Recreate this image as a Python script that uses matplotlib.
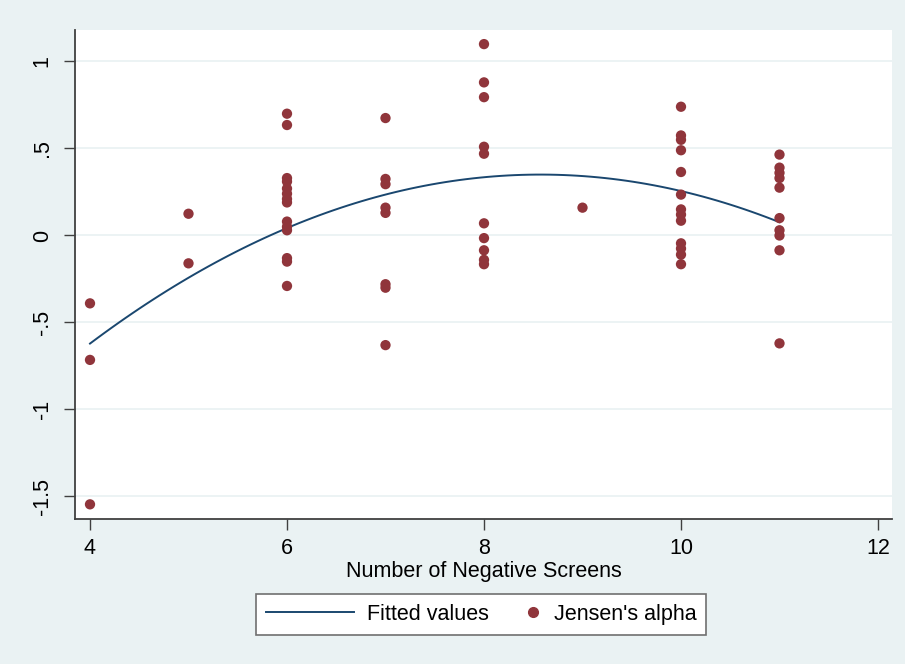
import numpy as np
import matplotlib
matplotlib.use('Agg')
import matplotlib.pyplot as plt
from matplotlib.lines import Line2D
from matplotlib.legend_handler import HandlerLine2DCompound

plt.rcParams['font.family'] = ['Liberation Sans', 'DejaVu Sans']

# Jensen's alpha, grouped by number of negative screens
alpha_4 = [-0.39, -0.715, -1.545]
alpha_5 = [0.125, -0.16]
alpha_6 = [0.70, 0.635, 0.33, 0.31, 0.27, 0.24, 0.21, 0.19, 0.08, 0.05, 0.03, -0.13, -0.15, -0.29]
alpha_7 = [0.675, 0.325, 0.295, 0.16, 0.13, -0.28, -0.30, -0.63]
alpha_8 = [1.10, 0.88, 0.795, 0.51, 0.47, 0.07, -0.015, -0.085, -0.14, -0.165]
alpha_9 = [0.16]
alpha_10 = [0.74, 0.575, 0.55, 0.49, 0.365, 0.235, 0.15, 0.12, 0.085, -0.045, -0.075, -0.11, -0.165]
alpha_11 = [0.465, 0.39, 0.36, 0.33, 0.275, 0.10, 0.03, 0.00, -0.085, -0.62]

groups = {4: alpha_4, 5: alpha_5, 6: alpha_6, 7: alpha_7,
          8: alpha_8, 9: alpha_9, 10: alpha_10, 11: alpha_11}

x_ticks = [4, 6, 8, 10, 12]
y_ticks = [1, 0.5, 0, -0.5, -1, -1.5]
y_labels = ['1', '.5', '0', '-.5', '-1', '-1.5']

screens = np.concatenate([[k] * len(v) for k, v in groups.items()])
alpha = np.concatenate([v for v in groups.values()])

# quadratic fit, like stata's qfit
coef = np.polyfit(screens, alpha, 2)
xfit = np.linspace(screens.min(), screens.max(), 100)
yfit = np.polyval(coef, xfit)

navy = '#1A476F'
maroon = '#90353B'
bg = '#EAF2F3'

fig = plt.figure(figsize=(9.05, 6.64), dpi=100, facecolor=bg)
ax = fig.add_axes([75 / 905, 1 - 519 / 664, (892 - 75) / 905, (519 - 30) / 664])
ax.set_facecolor('white')

for y in y_ticks:
    ax.axhline(y, color=bg, lw=1.3, zorder=0)

ax.plot(xfit, yfit, color=navy, lw=1.4, zorder=2)
ax.scatter(screens, alpha, s=55, color=maroon, edgecolors='none', zorder=3)

ax.set_xlim(4 + (75 - 90) / 98.5, 4 + (892 - 90) / 98.5)
ax.set_ylim((235.5 - 519) / 174, (235.5 - 30) / 174)

ax.set_xticks(x_ticks)
ax.set_yticks(y_ticks)
ax.set_yticklabels(y_labels, rotation=90, va='center')
ax.tick_params(axis='both', labelsize=15.5, length=8, width=1, color='#404040', direction='out')
ax.tick_params(axis='x', pad=6)
ax.tick_params(axis='y', pad=8)
for side in ['top', 'right']:
    ax.spines[side].set_visible(False)
for side in ['left', 'bottom']:
    ax.spines[side].set_color('#404040')
    ax.spines[side].set_linewidth(1.3)

ax.set_xlabel('Number of Negative Screens', fontsize=15.5, labelpad=1)


# stata puts the dot right next to its label, not in the middle of the key
class RightMarker(HandlerLine2DCompound):
    def get_xdata(self, legend, xdescent, ydescent, width, height, fontsize):
        return [-xdescent, -xdescent + width], [-xdescent + width - 0.35 * fontsize]


h_line = Line2D([], [], color=navy, lw=1.4)
h_dot = Line2D([], [], color=maroon, marker='o', markersize=7, linestyle='none')
leg = fig.legend([h_line, h_dot], ['Fitted values', "Jensen's alpha"],
                 loc='center', bbox_to_anchor=(481 / 905, 1 - 614.5 / 664),
                 ncol=2, fontsize=15.5, handlelength=4.1, handletextpad=0.6,
                 columnspacing=-1.7, borderpad=0.45, fancybox=False,
                 framealpha=1, edgecolor='#707070',
                 handler_map={h_dot: RightMarker()})
leg.get_frame().set_linewidth(1.2)

fig.savefig('out.png', dpi=100, facecolor=bg)
